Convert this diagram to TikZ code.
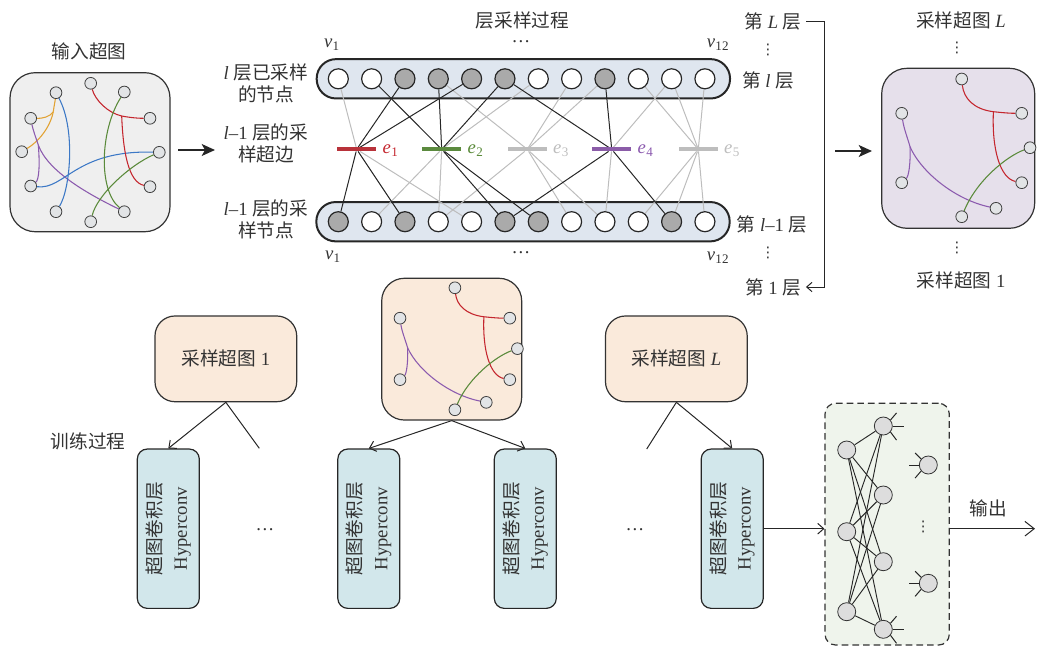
\documentclass[tikz,border=0pt]{standalone}
\usepackage{fontspec}
\setmainfont{Liberation Serif}
\newfontfamily\cjk{Noto Sans CJK SC}
\newfontfamily\dvs{DejaVu Sans}
\usetikzlibrary{arrows.meta}
\pgfdeclarelayer{boxes}
\pgfdeclarelayer{lines}
\pgfsetlayers{boxes,lines,main}
\newcommand\zh[1]{{\cjk #1}}
\newcommand\vsub[1]{\textit{v}\kern0.3pt\textsubscript{#1}}
\newcommand\esub[1]{\textit{e}\kern0.3pt\textsubscript{#1}}
\newcommand\vdt{{\dvs ⋮}}
\definecolor{txt}{HTML}{333333}
\definecolor{hred}{HTML}{C4262E}
\definecolor{hgreen}{HTML}{5A8A3A}
\definecolor{hpurple}{HTML}{8B5AAE}
\definecolor{hblue}{HTML}{3C78C6}
\definecolor{horange}{HTML}{E2A232}
\definecolor{ingrey}{HTML}{EFEFEF}
\definecolor{sampviolet}{HTML}{E6E0EB}
\definecolor{peach}{HTML}{FAEADB}
\definecolor{convblue}{HTML}{D2E7EB}
\definecolor{netgreen}{HTML}{EFF4EC}
\definecolor{pillfill}{HTML}{DFE6EF}
\definecolor{selgrey}{HTML}{AAAAAA}
\definecolor{faint}{HTML}{BDBDBD}
\definecolor{hvfill}{HTML}{E2E4E6}
\definecolor{nnfill}{HTML}{DDDDDD}
\definecolor{ebarred}{HTML}{B8323A}
\definecolor{ebargreen}{HTML}{5B8A3E}
\definecolor{ebarpurple}{HTML}{8B5CA8}

\newcommand\sampledgraph[1]{%
  \node[hv] (#1a) at (80,10.7) {};
  \node[hv] (#1b) at (20,45) {};
  \node[hv] (#1c) at (140,45) {};
  \node[hv] (#1d) at (148.3,79.4) {};
  \node[hv] (#1e) at (20,114.4) {};
  \node[hv] (#1f) at (140,114.4) {};
  \node[hv] (#1g) at (114.3,140) {};
  \node[hv] (#1h) at (80,148.4) {};
  \coordinate (#1rj) at (111.7,43.4);
  \coordinate (#1pj) at (28.3,78.4);
  \begin{pgfonlayer}{lines}
    \draw[hyp, hred] (#1a) .. controls (82,30) and (92,41) .. (#1rj) .. controls (122,44.5) and (128,45) .. (#1c);
    \draw[hyp, hred] (#1rj) .. controls (110,80) and (118,110) .. (#1f);
    \draw[hyp, hpurple] (#1b) .. controls (22,60) and (26,70) .. (#1pj) .. controls (29,95) and (27,108) .. (#1e);
    \draw[hyp, hpurple] (#1pj) .. controls (40,105) and (75,132) .. (#1g);
    \draw[hyp, hgreen] (#1d) .. controls (125,88) and (95,112) .. (#1h);
  \end{pgfonlayer}
}

\begin{document}
\begin{tikzpicture}[x=0.75pt,y=-0.75pt,
  font=\fontsize{14}{16.5}\selectfont, text=txt, inner sep=1.5pt,
  hv/.style={circle,draw=black!75,fill=hvfill,line width=0.6pt,minimum size=8.8pt,inner sep=0pt},
  pn/.style={circle,draw=black!85,fill=white,line width=0.9pt,minimum size=15pt,inner sep=0pt},
  nn/.style={circle,draw=black!80,fill=nnfill,line width=0.6pt,minimum size=13.5pt,inner sep=0pt},
  hyp/.style={line width=0.8pt},
  blk/.style={draw=black!85,line width=0.75pt},
  gry/.style={draw=faint,line width=0.75pt},
  ebar/.style={rectangle,minimum width=29pt,minimum height=2.8pt,inner sep=0pt},
  gbox/.style={rectangle,rounded corners=19pt,draw=black!80,line width=0.9pt},
  pill/.style={rectangle,rounded corners=14.5pt,draw=black!85,fill=pillfill,line width=1.5pt,minimum width=310pt,minimum height=29.5pt},
  sbox/.style={rectangle,rounded corners=15pt,draw=black!80,fill=peach,line width=0.9pt,minimum width=106.3pt,minimum height=64.3pt},
  cbox/.style={rectangle,rounded corners=7.5pt,draw=black!85,fill=convblue,line width=0.9pt,rotate=90,minimum width=119.5pt,minimum height=46.5pt,align=center,font=\fontsize{14}{19}\selectfont},
  conn/.style={draw=black!85,line width=0.75pt},
  openarr/.style={conn,-{Straight Barb[length=4.5pt,width=8pt]}},
  bigarr/.style={draw=black!85,line width=1pt,-{Stealth[length=10pt,width=9pt,inset=2.5pt]}},
  dots/.style={font=\fontsize{11}{12}\selectfont,inner sep=0pt}
]
\useasboundingbox (0,0) rectangle (1037,657);

% ---------- input hypergraph ----------
\node (inTitle) at (89,51) {\zh{输入超图}};
\begin{pgfonlayer}{boxes}
  \node[gbox,fill=ingrey,minimum width=120pt,minimum height=119.3pt] (inbox) at (90,152.2) {};
\end{pgfonlayer}
\node[hv] (n1) at (56,92.7) {};
\node[hv] (n2) at (90.7,83.3) {};
\node[hv] (n3) at (124.3,92) {};
\node[hv] (n4) at (30.7,118.3) {};
\node[hv] (n5) at (150,118.3) {};
\node[hv] (n6) at (21.7,151.7) {};
\node[hv] (n7) at (159.3,152.3) {};
\node[hv] (n8) at (30.7,186) {};
\node[hv] (n9) at (150,186.7) {};
\node[hv] (n10) at (56,211.7) {};
\node[hv] (n11) at (124.3,211.7) {};
\node[hv] (n12) at (90.7,221.7) {};
\coordinate (oj) at (53.3,111.7);
\coordinate (pj1) at (38.3,145);
\coordinate (rj1) at (121.7,116);
\begin{pgfonlayer}{lines}
  \draw[hyp,horange] (n1) .. controls (55,102) and (54,106) .. (oj);
  \draw[hyp,horange] (oj) .. controls (50,117) and (42,118.5) .. (n4);
  \draw[hyp,horange] (oj) .. controls (50,128) and (38,142) .. (n6);
  \draw[hyp,hpurple] (n4) .. controls (33,130) and (36,138) .. (pj1);
  \draw[hyp,hpurple] (pj1) .. controls (40,165) and (39,180) .. (n8);
  \draw[hyp,hpurple] (pj1) .. controls (48,172) and (90,195) .. (n11);
  \draw[hyp,hblue] (n1) .. controls (76,130) and (70,190) .. (n10);
  \draw[hyp,hblue] (n8) .. controls (65,190) and (75,150) .. (n7);
  \draw[hyp,hred] (n2) .. controls (95,100) and (108,113) .. (rj1) .. controls (132,118) and (140,118.3) .. (n5);
  \draw[hyp,hred] (rj1) .. controls (123,150) and (128,182) .. (n9);
  \draw[hyp,hgreen] (n3) .. controls (100,130) and (98,190) .. (n11);
  \draw[hyp,hgreen] (n7) .. controls (130,165) and (97,195) .. (n12);
\end{pgfonlayer}
\coordinate (a1s) at (178,150);
\coordinate (a1e) at (215,150);
\draw[bigarr] (a1s) -- (a1e);

% ---------- layer sampling ----------
\node (procTitle) at (522.5,20) {\zh{层采样过程}};
\node (tv1) at (332,45) {\vsub{1}};
\node (tdots) at (521,42) {\dots};
\node (tv12) at (718,45) {\vsub{12}};
\node (bv1) at (333,257) {\vsub{1}};
\node (bdots) at (521,253) {\dots};
\node (bv12) at (718,258) {\vsub{12}};
\begin{pgfonlayer}{boxes}
  \node[pill] (toprow) at (523.35,78.8) {};
  \node[pill] (botrow) at (523,221.7) {};
\end{pgfonlayer}
\foreach \i/\f in {1/white,2/white,3/selgrey,4/selgrey,5/selgrey,6/selgrey,7/white,8/white,9/selgrey,10/white,11/white,12/white}
  \node[pn,fill=\f] (t\i) at ({338.3+33.33*(\i-1)},78.8) {};
\foreach \i/\f in {1/selgrey,2/white,3/selgrey,4/white,5/white,6/selgrey,7/selgrey,8/white,9/white,10/white,11/selgrey,12/white}
  \node[pn,fill=\f] (b\i) at ({338.3+33.33*(\i-1)},221.7) {};
\node[ebar,fill=ebarred] (e1) at (356.7,149.3) {};
\node[ebar,fill=ebargreen] (e2) at (441.7,149.3) {};
\node[ebar,fill=faint] (e3) at (527.3,149.3) {};
\node[ebar,fill=ebarpurple] (e4) at (611.7,149.3) {};
\node[ebar,fill=faint] (e5) at (698.3,149.3) {};
\node[anchor=west,text=hred,inner sep=0pt] (le1) at ([xshift=4.5pt,yshift=-1pt]e1.east) {\esub{1}};
\node[anchor=west,text=hgreen,inner sep=0pt] (le2) at ([xshift=4.5pt,yshift=-1pt]e2.east) {\esub{2}};
\node[anchor=west,text=faint,inner sep=0pt] (le3) at ([xshift=4.5pt,yshift=-1pt]e3.east) {\esub{3}};
\node[anchor=west,text=hpurple,inner sep=0pt] (le4) at ([xshift=4.5pt,yshift=-1pt]e4.east) {\esub{4}};
\node[anchor=west,text=faint,inner sep=0pt] (le5) at ([xshift=4.5pt,yshift=-1pt]e5.east) {\esub{5}};
\begin{pgfonlayer}{lines}
  \foreach \a/\b in {1/1,7/2,4/3,8/3,9/3,11/4,10/5,11/5,12/5} \draw[gry] (t\a) -- (e\b);
  \foreach \a/\b in {1/5,2/2,2/4,3/4,3/8,3/9,4/9,5/10,5/11,5/12} \draw[gry] (e\a) -- (b\b);
  \foreach \a/\b in {3/1,5/1,2/2,4/2,6/2,6/4,9/4} \draw[blk] (t\a) -- (e\b);
  \foreach \a/\b in {1/1,1/3,2/6,2/7,4/6,4/11} \draw[blk] (e\a) -- (b\b);
\end{pgfonlayer}
\node[align=center] (lab1) at (266,83) {\textit{l} \zh{层已采样}\\\zh{的节点}};
\node[align=center] (lab2) at (266,143) {\textit{l}\textendash1 \zh{层的采}\\\zh{样超边}};
\node[align=center] (lab3) at (266,219) {\textit{l}\textendash1 \zh{层的采}\\\zh{样节点}};
\node (lL) at (773,21) {\zh{第} \textit{L} \zh{层}};
\node[dots] (vd1) at (768,50) {\vdt};
\node (ll) at (768,80) {\zh{第} \textit{l} \zh{层}};
\node (llm) at (772,224) {\zh{第} \textit{l}\textendash1 \zh{层}};
\node[dots] (vd2) at (768,253) {\vdt};
\node (l1) at (773,287) {\zh{第} 1 \zh{层}};
\coordinate (brTop) at (822,22);
\draw[conn,-{Straight Barb[length=4pt,width=7pt]}] ([xshift=2pt]lL.east) -- ([xshift=2pt]lL.east -| brTop) |- ([xshift=2pt]l1.east);
\coordinate (a2s) at (835,151);
\coordinate (a2e) at (872,151);
\draw[bigarr] (a2s) -- (a2e);

% ---------- sampled hypergraphs (right) ----------
\node (sgL) at (961,20) {\zh{采样超图} \textit{L}};
\node[dots] (vd3) at (957,48) {\vdt};
\node[dots] (vd4) at (957,248) {\vdt};
\node (sg1) at (961,280) {\zh{采样超图} 1};
\begin{pgfonlayer}{boxes}
  \node[gbox,fill=sampviolet,minimum width=114.75pt,minimum height=120pt] (rbox) at (958.2,148.3) {};
  \node[gbox,fill=peach,minimum width=105pt,minimum height=106.3pt,rounded corners=17pt] (mbox) at (451.7,349.15) {};
\end{pgfonlayer}
\begin{scope}[shift={(881.7,68.3)}]
  \sampledgraph{r}
\end{scope}
\begin{scope}[shift={(381.7,278.3)},xscale=0.915,yscale=0.886]
  \sampledgraph{m}
\end{scope}

% ---------- training ----------
\node (train) at (88,441) {\zh{训练过程}};
\node[sbox] (s1) at (225.85,358.85) {\zh{采样超图} 1};
\node[sbox] (sL) at (676.35,358.85) {\zh{采样超图} \textit{L}};
\node[cbox] (c1) at (168.3,528.7) {\zh{超图卷积层}\\Hyperconv};
\node[cbox] (c2) at (368.8,528.7) {\zh{超图卷积层}\\Hyperconv};
\node[cbox] (c3) at (525.3,528.7) {\zh{超图卷积层}\\Hyperconv};
\node[cbox] (c4) at (732.2,528.7) {\zh{超图卷积层}\\Hyperconv};
\node (dd1) at (265,530) {\dots};
\node (dd2) at (635,530) {\dots};
\coordinate (f1) at (259.3,448.3);
\coordinate (f2) at (646.7,449);
\draw[openarr] (s1.south) -- (c1.east);
\draw[conn] (s1.south) -- (f1);
\draw[openarr] (mbox.south) -- (c2.east);
\draw[openarr] (mbox.south) -- (c3.east);
\draw[conn] (sL.south) -- (f2);
\draw[openarr] (sL.south) -- (c4.east);

% ---------- network ----------
\begin{pgfonlayer}{boxes}
  \node[rectangle,rounded corners=8pt,draw=black!80,dash pattern=on 5pt off 3pt,line width=0.9pt,fill=netgreen,minimum width=93.2pt,minimum height=181.3pt] (nbox) at (887.15,524.15) {};
\end{pgfonlayer}
\node[nn] (p1) at (846.7,450) {};
\node[nn] (p2) at (846.7,531.7) {};
\node[nn] (p3) at (846.7,611.7) {};
\node[nn] (q1) at (883.3,426) {};
\node[nn] (q2) at (883.3,495) {};
\node[nn] (q3) at (883.3,561.7) {};
\node[nn] (q4) at (883.3,629.3) {};
\node[nn] (r1) at (928.3,465) {};
\node[nn] (r2) at (928.3,583.3) {};
\node[dots] (vd5) at (923.3,526.7) {\vdt};
\begin{pgfonlayer}{lines}
  \foreach \i in {1,2,3} \foreach \j in {1,2,3,4} \draw[conn,line width=0.7pt] (p\i) -- (q\j);
\end{pgfonlayer}
\foreach \n in {q1,q4} {
  \draw[conn] (\n.40) -- ++(6,-7);
  \draw[conn] (\n.east) -- ++(11,0);
  \draw[conn] (\n.-40) -- ++(6,8);
}
\foreach \n in {r1,r2} {
  \draw[conn] (\n.west) -- ++(-9.5,0);
  \draw[conn] (\n.140) -- ++(-6,-6);
  \draw[conn] (\n.-140) -- ++(-6,7);
}
\draw[openarr] (c4.south) -- (c4.south -| nbox.west);
\coordinate (outend) at (1035,528.7);
\draw[conn,-{Straight Barb[length=7pt,width=11pt]}] (c4.south -| nbox.east) -- (outend);
\node (outLabel) at (988,508) {\zh{输出}};
\end{tikzpicture}
\end{document}
